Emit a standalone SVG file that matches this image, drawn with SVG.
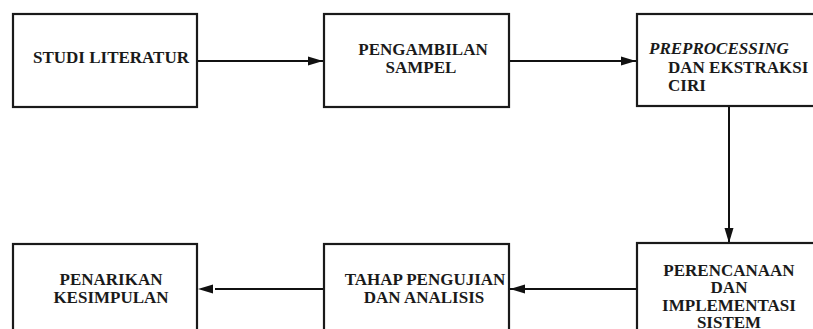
<svg xmlns="http://www.w3.org/2000/svg" width="813" height="329" viewBox="0 0 813 329">
<style>
.box{fill:#fff;stroke:#1a1a1a;stroke-width:2.2}
.t{font-family:"Liberation Serif","Times New Roman",serif;font-weight:bold;font-size:17px;fill:#1a1a1a}
.c{text-anchor:middle}
.conn{stroke:#111;stroke-width:2;fill:none}
</style>
<defs>
<marker id="ah" markerUnits="userSpaceOnUse" markerWidth="15" markerHeight="10" refX="15" refY="5" orient="auto">
<path d="M0,0.5 L15,5 L0,9.5 z" fill="#111"/>
</marker>
<marker id="ahgap" markerUnits="userSpaceOnUse" markerWidth="20" markerHeight="10" refX="-2" refY="5" orient="auto" overflow="visible">
<path d="M0,0.5 L15,5 L0,9.5 z" fill="#111"/>
</marker>
</defs>
<rect width="813" height="329" fill="#fff"/>
<g id="connectors">
<line class="conn" x1="198" y1="61" x2="323" y2="61" marker-end="url(#ah)"/>
<line class="conn" x1="510" y1="61" x2="636" y2="61" marker-end="url(#ah)"/>
<line class="conn" x1="729" y1="107" x2="729" y2="243" marker-end="url(#ah)"/>
<line class="conn" x1="637" y1="289" x2="510" y2="289" marker-end="url(#ah)"/>
<line class="conn" x1="324" y1="289" x2="215" y2="289" marker-end="url(#ahgap)"/>
</g>
<g id="studi-literatur">
<rect class="box" x="13" y="14" width="184" height="93"/>
<text class="t c" x="111" y="63">STUDI LITERATUR</text>
</g>
<g id="pengambilan-sampel">
<rect class="box" x="324" y="14" width="185" height="93"/>
<text class="t c" x="423" y="55">PENGAMBILAN</text>
<text class="t c" x="421" y="73">SAMPEL</text>
</g>
<g id="preprocessing">
<rect class="box" x="637" y="14" width="200" height="92"/>
<text class="t" x="649" y="54" font-style="italic">PREPROCESSING</text>
<text class="t" x="668" y="73">DAN EKSTRAKSI</text>
<text class="t" x="668" y="91">CIRI</text>
</g>
<g id="perencanaan">
<rect class="box" x="637" y="243" width="200" height="100"/>
<text class="t c" x="729" y="276">PERENCANAAN</text>
<text class="t c" x="729" y="293">DAN</text>
<text class="t c" x="729" y="311">IMPLEMENTASI</text>
<text class="t c" x="729" y="328">SISTEM</text>
</g>
<g id="tahap-pengujian">
<rect class="box" x="324" y="244" width="185" height="100"/>
<text class="t c" x="425" y="285">TAHAP PENGUJIAN</text>
<text class="t c" x="424" y="303">DAN ANALISIS</text>
</g>
<g id="penarikan-kesimpulan">
<rect class="box" x="13" y="244" width="184" height="100"/>
<text class="t c" x="111" y="285">PENARIKAN</text>
<text class="t c" x="111" y="303">KESIMPULAN</text>
</g>
</svg>
